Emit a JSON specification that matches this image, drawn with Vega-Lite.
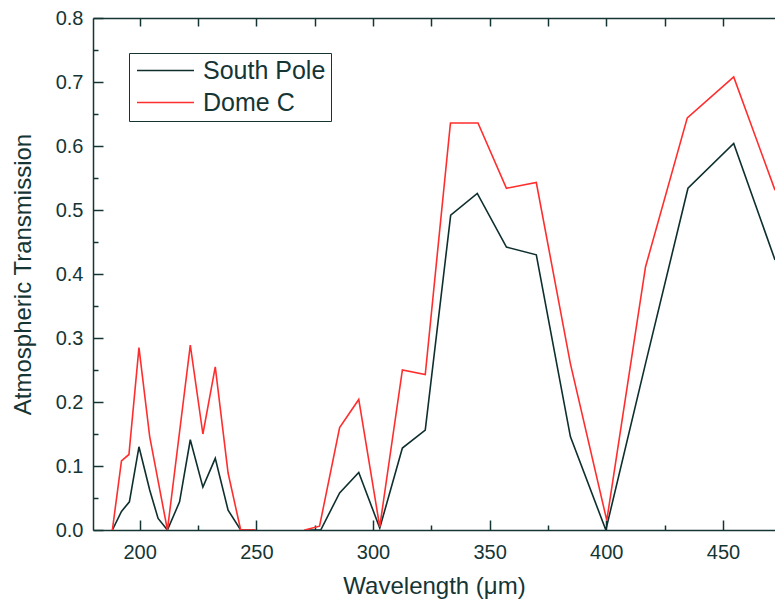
{
  "$schema": "https://vega.github.io/schema/vega-lite/v6.json",
  "width": 682,
  "height": 512,
  "autosize": {"type": "none"},
  "padding": {"left": 93, "top": 18, "right": 0, "bottom": 76},
  "background": "white",
  "config": {
    "view": {"stroke": null},
    "font": "Liberation Sans",
    "axis": {
      "domainColor": "#153535",
      "domainWidth": 1.5,
      "ticks": true,
      "tickColor": "#153535",
      "tickWidth": 1.5,
      "labelColor": "#153535",
      "labelFont": "Liberation Sans",
      "labelFontSize": 20,
      "titleColor": "#153535",
      "titleFont": "Liberation Sans",
      "titleFontSize": 24,
      "titleFontWeight": "normal",
      "grid": false
    }
  },
  "data": {
    "values": [
      {"wl": 188.3, "series": "South Pole", "seg": 1, "t": 0},
      {"wl": 192.2, "series": "South Pole", "seg": 1, "t": 0.029},
      {"wl": 195.6, "series": "South Pole", "seg": 1, "t": 0.044},
      {"wl": 199.7, "series": "South Pole", "seg": 1, "t": 0.13},
      {"wl": 204.3, "series": "South Pole", "seg": 1, "t": 0.0625},
      {"wl": 207.9, "series": "South Pole", "seg": 1, "t": 0.018},
      {"wl": 211.9, "series": "South Pole", "seg": 1, "t": 0},
      {"wl": 217.1, "series": "South Pole", "seg": 1, "t": 0.044},
      {"wl": 221.7, "series": "South Pole", "seg": 1, "t": 0.141},
      {"wl": 227.1, "series": "South Pole", "seg": 1, "t": 0.067},
      {"wl": 232.4, "series": "South Pole", "seg": 1, "t": 0.112},
      {"wl": 237.9, "series": "South Pole", "seg": 1, "t": 0.031},
      {"wl": 243.3, "series": "South Pole", "seg": 1, "t": 0},
      {"wl": 249.6, "series": "South Pole", "seg": 1, "t": 0},
      {"wl": 270.7, "series": "South Pole", "seg": 2, "t": 0},
      {"wl": 277.6, "series": "South Pole", "seg": 2, "t": 0},
      {"wl": 285.7, "series": "South Pole", "seg": 2, "t": 0.058},
      {"wl": 293.9, "series": "South Pole", "seg": 2, "t": 0.09},
      {"wl": 302.9, "series": "South Pole", "seg": 2, "t": 0.003},
      {"wl": 312.6, "series": "South Pole", "seg": 2, "t": 0.128},
      {"wl": 322.4, "series": "South Pole", "seg": 2, "t": 0.156},
      {"wl": 333.3, "series": "South Pole", "seg": 2, "t": 0.492},
      {"wl": 344.7, "series": "South Pole", "seg": 2, "t": 0.526},
      {"wl": 357.2, "series": "South Pole", "seg": 2, "t": 0.442},
      {"wl": 370.0, "series": "South Pole", "seg": 2, "t": 0.43},
      {"wl": 384.6, "series": "South Pole", "seg": 2, "t": 0.146},
      {"wl": 399.8, "series": "South Pole", "seg": 2, "t": 0},
      {"wl": 416.8, "series": "South Pole", "seg": 2, "t": 0.26},
      {"wl": 435.0, "series": "South Pole", "seg": 2, "t": 0.534},
      {"wl": 454.6, "series": "South Pole", "seg": 2, "t": 0.604},
      {"wl": 472.3, "series": "South Pole", "seg": 2, "t": 0.422},
      {"wl": 188.3, "series": "Dome C", "seg": 1, "t": 0},
      {"wl": 192.2, "series": "Dome C", "seg": 1, "t": 0.108},
      {"wl": 195.4, "series": "Dome C", "seg": 1, "t": 0.118},
      {"wl": 199.7, "series": "Dome C", "seg": 1, "t": 0.285},
      {"wl": 204.3, "series": "Dome C", "seg": 1, "t": 0.146},
      {"wl": 211.9, "series": "Dome C", "seg": 1, "t": 0},
      {"wl": 221.7, "series": "Dome C", "seg": 1, "t": 0.289},
      {"wl": 227.1, "series": "Dome C", "seg": 1, "t": 0.15},
      {"wl": 232.4, "series": "Dome C", "seg": 1, "t": 0.255},
      {"wl": 237.9, "series": "Dome C", "seg": 1, "t": 0.089},
      {"wl": 243.3, "series": "Dome C", "seg": 1, "t": 0},
      {"wl": 249.6, "series": "Dome C", "seg": 1, "t": 0},
      {"wl": 270.7, "series": "Dome C", "seg": 2, "t": 0},
      {"wl": 277.1, "series": "Dome C", "seg": 2, "t": 0.006},
      {"wl": 285.7, "series": "Dome C", "seg": 2, "t": 0.16},
      {"wl": 293.9, "series": "Dome C", "seg": 2, "t": 0.204},
      {"wl": 302.9, "series": "Dome C", "seg": 2, "t": 0.005},
      {"wl": 312.6, "series": "Dome C", "seg": 2, "t": 0.25},
      {"wl": 322.4, "series": "Dome C", "seg": 2, "t": 0.243},
      {"wl": 333.2, "series": "Dome C", "seg": 2, "t": 0.636},
      {"wl": 345.0, "series": "Dome C", "seg": 2, "t": 0.636},
      {"wl": 357.2, "series": "Dome C", "seg": 2, "t": 0.534},
      {"wl": 370.0, "series": "Dome C", "seg": 2, "t": 0.543},
      {"wl": 384.6, "series": "Dome C", "seg": 2, "t": 0.26},
      {"wl": 400.2, "series": "Dome C", "seg": 2, "t": 0.015},
      {"wl": 416.8, "series": "Dome C", "seg": 2, "t": 0.411},
      {"wl": 434.7, "series": "Dome C", "seg": 2, "t": 0.644},
      {"wl": 454.6, "series": "Dome C", "seg": 2, "t": 0.708},
      {"wl": 472.3, "series": "Dome C", "seg": 2, "t": 0.531}
    ]
  },
  "layer": [
    {
      "transform": [{"filter": "datum.series === 'South Pole'"}],
      "mark": {"type": "line", "clip": true, "strokeWidth": 1.6},
      "encoding": {
        "x": {
          "field": "wl", "type": "quantitative",
          "scale": {"domain": [180, 472.3], "nice": false, "zero": false},
          "axis": {
            "orient": "bottom",
            "title": "Wavelength (μm)",
            "values": [200, 225, 250, 275, 300, 325, 350, 375, 400, 425, 450],
            "labelExpr": "datum.value % 50 === 0 ? datum.label : ''",
            "tickSize": {"condition": {"test": "datum.value % 50 === 0", "value": -10}, "value": -5},
            "labelPadding": 22,
            "titlePadding": 12
          }
        },
        "y": {
          "field": "t", "type": "quantitative",
          "scale": {"domain": [0, 0.8], "nice": false},
          "axis": {
            "title": "Atmospheric Transmission",
            "values": [0, 0.05, 0.1, 0.15, 0.2, 0.25, 0.3, 0.35, 0.4, 0.45, 0.5, 0.55, 0.6, 0.65, 0.7, 0.75, 0.8],
            "labelExpr": "round(datum.value * 100) % 10 === 0 ? format(datum.value, '.1f') : ''",
            "tickSize": {"condition": {"test": "round(datum.value * 100) % 10 === 0", "value": -10}, "value": -5},
            "labelPadding": 20,
            "titlePadding": 20
          }
        },
        "color": {
          "field": "series", "type": "nominal",
          "scale": {"domain": ["South Pole", "Dome C"], "range": ["#0f2f2f", "#ff2e2e"]},
          "legend": {
            "orient": "none", "legendX": 36, "legendY": 35, "title": null,
            "symbolType": "M-1,0H5", "symbolSize": 361, "symbolStrokeWidth": 1.5,
            "labelFontSize": 25, "labelFont": "Liberation Sans", "labelColor": "#153535",
            "labelOffset": 44, "labelLimit": 400, "padding": 5, "rowPadding": 6,
            "strokeColor": "#153535", "fillColor": "white"
          }
        },
        "detail": {"field": "seg", "type": "nominal"}
      }
    },
    {
      "transform": [{"filter": "datum.series === 'Dome C'"}],
      "mark": {"type": "line", "clip": true, "strokeWidth": 1.6},
      "encoding": {
        "x": {
          "field": "wl", "type": "quantitative",
          "scale": {"domain": [180, 472.3], "nice": false, "zero": false},
          "axis": {
            "orient": "top",
            "title": null,
            "labels": false,
            "values": [200, 225, 250, 275, 300, 325, 350, 375, 400, 425, 450],
            "tickSize": -8
          }
        },
        "y": {
          "field": "t", "type": "quantitative",
          "scale": {"domain": [0, 0.8], "nice": false},
          "axis": {
            "title": "Atmospheric Transmission",
            "values": [0, 0.05, 0.1, 0.15, 0.2, 0.25, 0.3, 0.35, 0.4, 0.45, 0.5, 0.55, 0.6, 0.65, 0.7, 0.75, 0.8],
            "labelExpr": "round(datum.value * 100) % 10 === 0 ? format(datum.value, '.1f') : ''",
            "tickSize": {"condition": {"test": "round(datum.value * 100) % 10 === 0", "value": -10}, "value": -5},
            "labelPadding": 20,
            "titlePadding": 20
          }
        },
        "color": {
          "field": "series", "type": "nominal",
          "scale": {"domain": ["South Pole", "Dome C"], "range": ["#0f2f2f", "#ff2e2e"]}
        },
        "detail": {"field": "seg", "type": "nominal"}
      }
    }
  ],
  "resolve": {"axis": {"x": "independent"}}
}
